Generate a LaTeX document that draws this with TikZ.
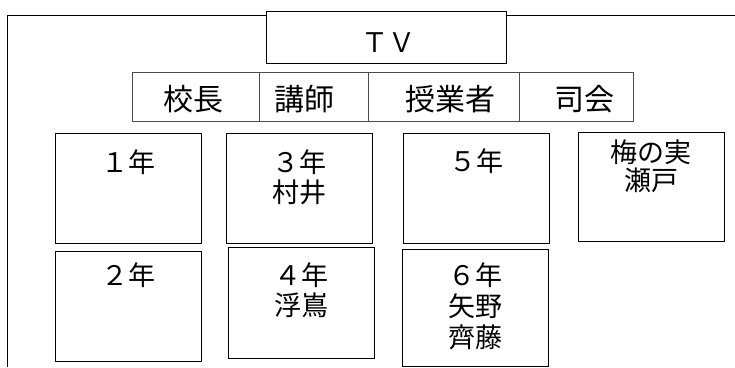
\documentclass[tikz,border=0pt]{standalone}
\usepackage{fontspec}
\setmainfont{Noto Sans CJK JP}
\tikzset{
  box/.style={draw=black, line width=1pt, fill=white, inner sep=0pt},
  cell/.style={draw=black!70, line width=1pt, inner sep=0pt},
  lbl/.style={anchor=base, inner sep=0pt, font=\fontsize{27pt}{32pt}\selectfont},
  big/.style={anchor=base, inner sep=0pt, font=\fontsize{30pt}{36pt}\selectfont},
}
\begin{document}
\begin{tikzpicture}[x=1pt,y=-1pt]
\useasboundingbox (0,0) rectangle (735,367);
% outer frame (open at right and bottom)
\coordinate (fb) at (7,367);
\coordinate (ft) at (7,15);
\coordinate (fr) at (735,15);
\draw[line width=1pt] (fb) -- (ft) -- (fr);
% TV
\node[box, minimum width=240pt, minimum height=52pt] (tv) at (386,37) {};
\node[lbl] (tvt) at (388,52) {ＴＶ};
% row of roles
\node[cell, minimum width=127pt, minimum height=49pt] (c1) at (195.5,96.5) {};
\node[cell, minimum width=109pt, minimum height=49pt] (c2) at (313.5,96.5) {};
\node[cell, minimum width=151pt, minimum height=49pt] (c3) at (443.5,96.5) {};
\node[cell, minimum width=114pt, minimum height=49pt] (c4) at (576,96.5) {};
\node[big] (c1t) at (193,110) {校長};
\node[big] (c2t) at (304,110) {講師};
\node[big] (c3t) at (450,110) {授業者};
\node[big] (c4t) at (584,110) {司会};
% class boxes
\node[box, minimum width=146pt, minimum height=110pt] (g1) at (128,188) {};
\node[box, minimum width=146pt, minimum height=110pt] (g3) at (299,188) {};
\node[box, minimum width=146pt, minimum height=110pt] (g5) at (476,188) {};
\node[box, minimum width=146pt, minimum height=109pt] (gu) at (651,186.5) {};
\node[box, minimum width=146pt, minimum height=110pt] (g2) at (128,306) {};
\node[box, minimum width=146pt, minimum height=111pt] (g4) at (301,302.5) {};
\node[box, minimum width=146pt, minimum height=117pt] (g6) at (475,307.5) {};
% texts
\node[lbl] (g1a) at (128,172.5) {１年};
\node[lbl] (g3a) at (299,172.5) {３年};
\node[lbl] (g3b) at (299,202.5) {村井};
\node[lbl] (g5a) at (476,171) {５年};
\node[lbl] (gua) at (651,162.5) {梅の実};
\node[lbl] (gub) at (651,190.5) {瀬戸};
\node[lbl] (g2a) at (128,285.5) {２年};
\node[lbl] (g4a) at (301,285.5) {４年};
\node[lbl] (g4b) at (301,315.5) {浮嶌};
\node[lbl] (g6a) at (475,285) {６年};
\node[lbl] (g6b) at (475,316) {矢野};
\node[lbl] (g6c) at (475,347) {齊藤};
\end{tikzpicture}
\end{document}
